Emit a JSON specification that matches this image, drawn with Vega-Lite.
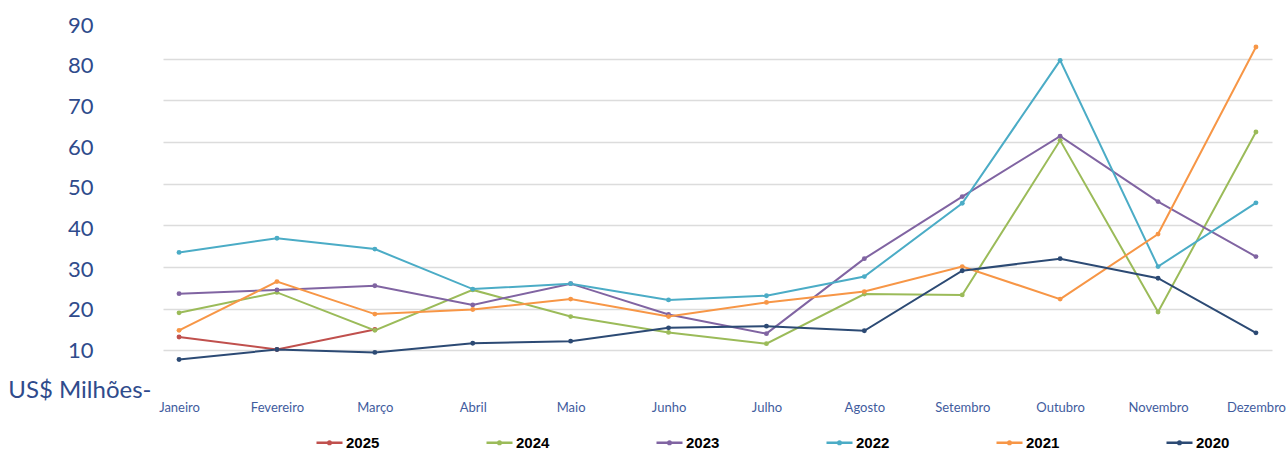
{
  "$schema": "https://vega.github.io/schema/vega-lite/v6.json",
  "width": 1109,
  "height": 375,
  "autosize": {"type": "none"},
  "padding": {"left": 163, "top": 17, "right": 14, "bottom": 58},
  "background": "white",
  "config": {"view": {"stroke": null}},
  "data": {"values": [
    {"mes": "Janeiro", "ano": "2025", "valor": 13.2},
    {"mes": "Fevereiro", "ano": "2025", "valor": 10.2},
    {"mes": "Março", "ano": "2025", "valor": 15.0},

    {"mes": "Janeiro", "ano": "2024", "valor": 19.0},
    {"mes": "Fevereiro", "ano": "2024", "valor": 23.9},
    {"mes": "Março", "ano": "2024", "valor": 14.8},
    {"mes": "Abril", "ano": "2024", "valor": 24.5},
    {"mes": "Maio", "ano": "2024", "valor": 18.1},
    {"mes": "Junho", "ano": "2024", "valor": 14.3},
    {"mes": "Julho", "ano": "2024", "valor": 11.6},
    {"mes": "Agosto", "ano": "2024", "valor": 23.5},
    {"mes": "Setembro", "ano": "2024", "valor": 23.3},
    {"mes": "Outubro", "ano": "2024", "valor": 60.4},
    {"mes": "Novembro", "ano": "2024", "valor": 19.2},
    {"mes": "Dezembro", "ano": "2024", "valor": 62.4},

    {"mes": "Janeiro", "ano": "2023", "valor": 23.6},
    {"mes": "Fevereiro", "ano": "2023", "valor": 24.5},
    {"mes": "Março", "ano": "2023", "valor": 25.5},
    {"mes": "Abril", "ano": "2023", "valor": 20.9},
    {"mes": "Maio", "ano": "2023", "valor": 26.0},
    {"mes": "Junho", "ano": "2023", "valor": 18.6},
    {"mes": "Julho", "ano": "2023", "valor": 14.0},
    {"mes": "Agosto", "ano": "2023", "valor": 32.0},
    {"mes": "Setembro", "ano": "2023", "valor": 46.9},
    {"mes": "Outubro", "ano": "2023", "valor": 61.4},
    {"mes": "Novembro", "ano": "2023", "valor": 45.7},
    {"mes": "Dezembro", "ano": "2023", "valor": 32.5},

    {"mes": "Janeiro", "ano": "2022", "valor": 33.5},
    {"mes": "Fevereiro", "ano": "2022", "valor": 36.9},
    {"mes": "Março", "ano": "2022", "valor": 34.3},
    {"mes": "Abril", "ano": "2022", "valor": 24.7},
    {"mes": "Maio", "ano": "2022", "valor": 26.0},
    {"mes": "Junho", "ano": "2022", "valor": 22.1},
    {"mes": "Julho", "ano": "2022", "valor": 23.1},
    {"mes": "Agosto", "ano": "2022", "valor": 27.7},
    {"mes": "Setembro", "ano": "2022", "valor": 45.3},
    {"mes": "Outubro", "ano": "2022", "valor": 79.6},
    {"mes": "Novembro", "ano": "2022", "valor": 30.1},
    {"mes": "Dezembro", "ano": "2022", "valor": 45.4},

    {"mes": "Janeiro", "ano": "2021", "valor": 14.8},
    {"mes": "Fevereiro", "ano": "2021", "valor": 26.5},
    {"mes": "Março", "ano": "2021", "valor": 18.7},
    {"mes": "Abril", "ano": "2021", "valor": 19.8},
    {"mes": "Maio", "ano": "2021", "valor": 22.3},
    {"mes": "Junho", "ano": "2021", "valor": 18.1},
    {"mes": "Julho", "ano": "2021", "valor": 21.5},
    {"mes": "Agosto", "ano": "2021", "valor": 24.1},
    {"mes": "Setembro", "ano": "2021", "valor": 30.1},
    {"mes": "Outubro", "ano": "2021", "valor": 22.3},
    {"mes": "Novembro", "ano": "2021", "valor": 37.9},
    {"mes": "Dezembro", "ano": "2021", "valor": 82.8},

    {"mes": "Janeiro", "ano": "2020", "valor": 7.8},
    {"mes": "Fevereiro", "ano": "2020", "valor": 10.2},
    {"mes": "Março", "ano": "2020", "valor": 9.5},
    {"mes": "Abril", "ano": "2020", "valor": 11.7},
    {"mes": "Maio", "ano": "2020", "valor": 12.2},
    {"mes": "Junho", "ano": "2020", "valor": 15.4},
    {"mes": "Julho", "ano": "2020", "valor": 15.8},
    {"mes": "Agosto", "ano": "2020", "valor": 14.7},
    {"mes": "Setembro", "ano": "2020", "valor": 29.1},
    {"mes": "Outubro", "ano": "2020", "valor": 32.0},
    {"mes": "Novembro", "ano": "2020", "valor": 27.3},
    {"mes": "Dezembro", "ano": "2020", "valor": 14.2}
  ]},
  "mark": {"type": "line", "strokeWidth": 2, "point": {"filled": true, "size": 24}},
  "encoding": {
    "x": {
      "field": "mes",
      "type": "ordinal",
      "sort": ["Janeiro", "Fevereiro", "Março", "Abril", "Maio", "Junho", "Julho", "Agosto", "Setembro", "Outubro", "Novembro", "Dezembro"],
      "scale": {"type": "point", "padding": 0.164},
      "axis": {
        "title": null,
        "labelAngle": 0,
        "domain": false,
        "ticks": false,
        "grid": false,
        "labelFont": "Lato",
        "labelFontSize": 13,
        "labelColor": "#3F5C9E",
        "labelPadding": 9
      }
    },
    "y": {
      "field": "valor",
      "type": "quantitative",
      "scale": {"domain": [0, 90], "nice": false, "zero": true},
      "axis": {
        "title": null,
        "values": [0, 10, 20, 30, 40, 50, 60, 70, 80, 90],
        "domain": false,
        "ticks": false,
        "labelFont": "Lato",
        "labelFontSize": {"condition": {"test": "datum.value == 0", "value": 24}, "value": 22},
        "labelColor": "#2F4B8C",
        "labelPadding": {"condition": {"test": "datum.value == 0", "value": 12}, "value": 70},
        "labelOffset": {"condition": [
          {"test": "datum.value >= 85", "value": 8},
          {"test": "datum.value >= 75", "value": 7},
          {"test": "datum.value >= 65", "value": 6},
          {"test": "datum.value >= 55", "value": 5},
          {"test": "datum.value >= 45", "value": 4},
          {"test": "datum.value >= 35", "value": 3},
          {"test": "datum.value >= 25", "value": 2},
          {"test": "datum.value >= 15", "value": 1},
          {"test": "datum.value >= 5", "value": 0}
        ], "value": -2},
        "labelExpr": "datum.value == 0 ? 'US$ Milhões-' : datum.label",
        "gridColor": "#DCDCDC",
        "gridWidth": 1.5,
        "gridOpacity": {"condition": {"test": "datum.value == 0 || datum.value == 90", "value": 0}, "value": 1}
      }
    },
    "color": {
      "field": "ano",
      "type": "nominal",
      "scale": {
        "domain": ["2025", "2024", "2023", "2022", "2021", "2020"],
        "range": ["#C0504D", "#9BBB59", "#8064A2", "#4BACC6", "#F79646", "#2C4A74"]
      },
      "legend": {
        "title": null,
        "orient": "none",
        "legendX": 152,
        "legendY": 411,
        "direction": "horizontal",
        "columns": 6,
        "gridAlign": "all",
        "columnPadding": 101,
        "padding": 0,
        "symbolType": "M-1,0L1,0M-0.1,0A0.1,0.1,0,1,1,0.1,0A0.1,0.1,0,1,1,-0.1,0Z",
        "symbolSize": 676,
        "symbolStrokeWidth": 2.5,
        "labelFont": "Liberation Sans",
        "labelFontWeight": "bold",
        "labelFontSize": 15,
        "labelColor": "#000000",
        "labelOffset": 2
      }
    }
  }
}
